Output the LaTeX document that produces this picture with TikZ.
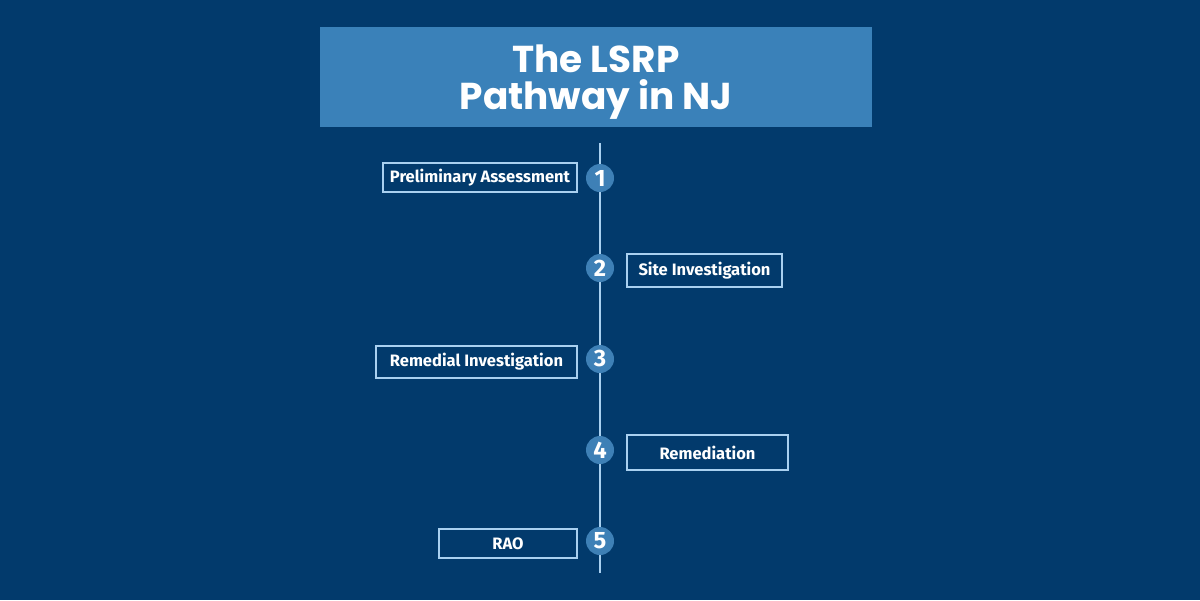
\documentclass[tikz,border=0pt]{standalone}
\usepackage{fontspec}
\setmainfont{Fira Sans}
\newfontfamily\titlefont{Poppins}
\usetikzlibrary{positioning}
\definecolor{navy}{HTML}{023A6C}
\definecolor{titleblue}{HTML}{3A81B9}
\definecolor{circleblue}{HTML}{3E80B6}
\definecolor{lineblue}{HTML}{A9D0F0}

\tikzset{
    stepbox/.style={draw=lineblue, line width=0.7pt, text=white, inner sep=0pt,
        font=\fontsize{9.4}{11}\selectfont\bfseries},
    stepnum/.style={circle, fill=circleblue, minimum size=0.56cm, inner sep=0pt,
        text=white, font=\fontsize{13.5}{13.5}\selectfont\bfseries}
}

\begin{document}
\begin{tikzpicture}[x=0.02cm, y=-0.02cm]
            \fill[navy] (0,0) rectangle (1200,600);
            \useasboundingbox (0,0) rectangle (1200,600);

            % title
            \node[fill=titleblue, minimum width=11.04cm, minimum height=2cm, inner sep=0pt]
                (title) at (596,77) {};
            \node[text=white, align=center, font=\titlefont\fontsize{21.3}{21}\selectfont\bfseries]
                (titletext) at (596,82) {The LSRP\\Pathway in NJ};

            % timeline
            \coordinate (top) at (600,143);
            \coordinate (bottom) at (600,573);
            \draw[lineblue, line width=1pt] (top) -- (bottom);

            \foreach \i/\y in {1/178, 2/268, 3/359, 4/450, 5/541} {
                \node[stepnum] (n\i) at (600,\y) {\i};
            }

            % labels
            \node[stepbox, minimum width=3.88cm, minimum height=0.58cm] (s1) at (480,177.5) {Preliminary Assessment};
            \node[stepbox, minimum width=3.1cm, minimum height=0.66cm] (s2) at (704.5,270.5) {Site Investigation};
            \node[stepbox, minimum width=4.02cm, minimum height=0.64cm] (s3) at (476.5,362) {Remedial Investigation};
            \node[stepbox, minimum width=3.22cm, minimum height=0.7cm] (s4) at (707.5,452.5) {Remediation};
            \node[stepbox, minimum width=2.76cm, minimum height=0.58cm] (s5) at (508,543.5) {RAO};

        \end{tikzpicture}
\end{document}
